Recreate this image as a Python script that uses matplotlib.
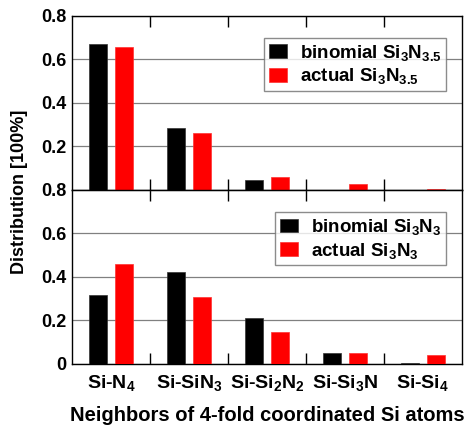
import matplotlib
matplotlib.use("Agg")
import matplotlib.pyplot as plt
import numpy as np
from matplotlib.ticker import FixedLocator

plt.rcParams['font.family'] = ['Liberation Sans', 'DejaVu Sans']
plt.rcParams['font.weight'] = 'bold'
plt.rcParams['axes.labelweight'] = 'bold'
plt.rcParams['mathtext.fontset'] = 'custom'
plt.rcParams['mathtext.rm'] = 'Liberation Sans:bold'
plt.rcParams['mathtext.bf'] = 'Liberation Sans:bold'
plt.rcParams['mathtext.it'] = 'Liberation Sans:bold'
plt.rcParams['mathtext.default'] = 'rm'

categories = [r'Si-N$_4$', r'Si-SiN$_3$', r'Si-Si$_2$N$_2$', r'Si-Si$_3$N', r'Si-Si$_4$']
top_binomial = [0.671, 0.283, 0.045, 0.002, 0.0005]
top_actual = [0.655, 0.260, 0.058, 0.026, 0.004]
bot_binomial = [0.316, 0.422, 0.212, 0.048, 0.002]
bot_actual = [0.460, 0.306, 0.146, 0.051, 0.039]
top_labels = [r'binomial Si$_3$N$_{3.5}$', r'actual Si$_3$N$_{3.5}$']
bot_labels = [r'binomial Si$_3$N$_3$', r'actual Si$_3$N$_3$']

fig = plt.figure(figsize=(4.65, 4.26), dpi=100)
W, H = 465, 426
ax_left, ax_right = 72, 462
ax1 = fig.add_axes([ax_left / W, 1 - 190 / H, (ax_right - ax_left) / W, (190 - 15.7) / H])
ax2 = fig.add_axes([ax_left / W, 1 - 363.7 / H, (ax_right - ax_left) / W, (363.7 - 190) / H])

x = np.arange(len(categories))
off = 0.165
bw = 0.235
for ax, b, a, labs in [(ax1, top_binomial, top_actual, top_labels),
                       (ax2, bot_binomial, bot_actual, bot_labels)]:
    ax.bar(x - off, b, bw, color='black', edgecolor='#333333', linewidth=0.5,
           label=labs[0], zorder=3)
    ax.bar(x + off, a, bw, color='#ff0000', edgecolor='#ff3030', linewidth=0.5,
           label=labs[1], zorder=3)
    ax.set_xlim(-0.5, 4.5)
    ax.set_ylim(0, 0.8)
    ax.yaxis.grid(True, color='#808080', linewidth=0.9, zorder=0)
    ax.set_axisbelow(True)
    ax.xaxis.set_minor_locator(FixedLocator([0.5, 1.5, 2.5, 3.5]))
    ax.tick_params(axis='x', which='minor', direction='in', length=8, width=1.0,
                   top=True, bottom=True, color='black')
    ax.tick_params(axis='x', which='major', length=0)
    ax.tick_params(axis='y', which='major', length=0, pad=4)
    for s in ax.spines.values():
        s.set_linewidth(1.0)
    leg = ax.legend(loc='upper right', bbox_to_anchor=(0.959, 0.872),
                    prop={'size': 13.5, 'weight': 'bold'},
                    frameon=True, fancybox=False, edgecolor='#707070',
                    handlelength=0.95, handleheight=0.75, handletextpad=0.68,
                    borderpad=0.25, labelspacing=0.2, borderaxespad=0)
    leg.get_frame().set_linewidth(1.0)

ax1.set_xticks(x)
ax1.set_xticklabels([])
ax1.set_yticks([0.2, 0.4, 0.6, 0.8])
ax1.set_yticklabels(['0.2', '0.4', '0.6', '0.8'], fontsize=13, fontweight='bold')
ax2.set_xticks(x)
ax2.set_xticklabels(categories, fontsize=14, fontweight='bold')
ax2.tick_params(axis='x', which='major', pad=7)
ax2.set_yticks([0, 0.2, 0.4, 0.6, 0.8])
ax2.set_yticklabels(['0', '0.2', '0.4', '0.6', '0.8'], fontsize=13, fontweight='bold')
ax2.set_xlabel('Neighbors of 4-fold coordinated Si atoms', fontsize=14.5,
               fontweight='bold', labelpad=9)
fig.text(19.5 / W, 1 - 192 / H, 'Distribution [100%]', rotation=90, fontsize=13,
         fontweight='bold', ha='center', va='center')

fig.savefig('out.png', dpi=100)
